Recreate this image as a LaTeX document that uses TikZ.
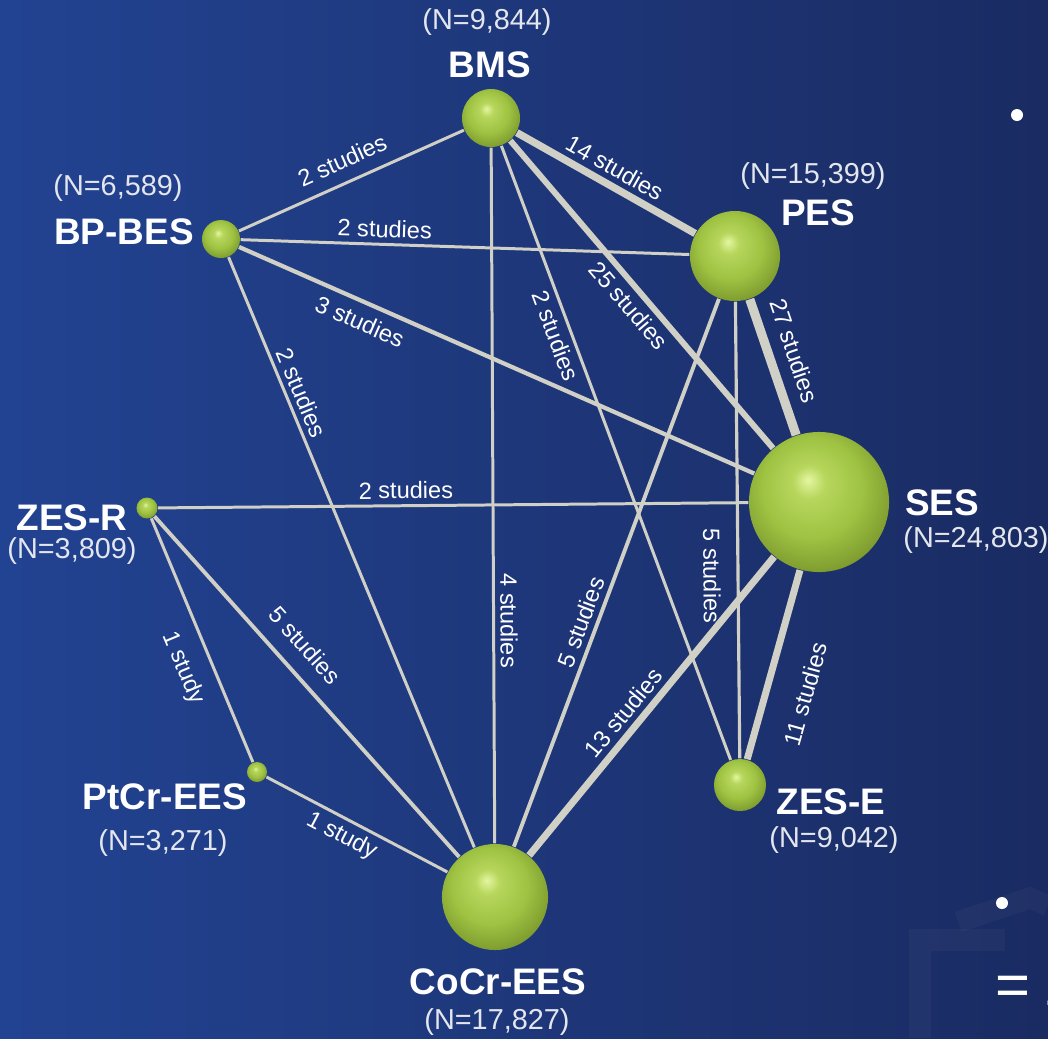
\documentclass[tikz,border=0pt]{standalone}
\usepackage{fontspec}
\setmainfont{Liberation Sans}
\usepackage{xcolor}
\usetikzlibrary{positioning,calc}

\definecolor{bgleft}{RGB}{34,67,146}
\definecolor{bgright}{RGB}{26,43,98}
\definecolor{edgegray}{RGB}{208,208,198}
\definecolor{nlabel}{RGB}{228,230,238}
\definecolor{gbhi}{RGB}{228,246,160}
\definecolor{gbmid}{RGB}{182,214,92}
\definecolor{gbbody}{RGB}{158,194,66}
\definecolor{gbrim}{RGB}{128,158,48}
\definecolor{gbdark}{RGB}{92,114,32}
\pgfdeclareradialshading{greenball}{\pgfpoint{-4bp}{8bp}}{%
  color(0bp)=(gbhi); color(6bp)=(gbmid); color(18bp)=(gbbody);
  color(28bp)=(gbrim); color(34bp)=(gbdark); color(50bp)=(gbdark)}

\begin{document}
\begin{tikzpicture}[x=0.01cm, y=-0.01cm,
  sphere/.style={circle, shading=greenball, minimum size=#1, inner sep=0pt},
  title/.style={text=white, font=\fontsize{10.5}{12}\selectfont\bfseries, inner sep=0pt},
  count/.style={text=nlabel, font=\fontsize{8.2}{10}\selectfont, inner sep=0pt},
  link/.style={draw=edgegray, line width=#1},
  study/.style={text=white, font=\fontsize{6.7}{8}\selectfont, sloped, inner sep=1.5pt}]

  % Background
  \useasboundingbox (0,0) rectangle (1048,1038);
  \clip (0,0) rectangle (1048,1038);
  \shade[left color=bgleft, right color=bgright] (0,0) rectangle (1048,1038);
  \draw[white, opacity=0.03, line width=6pt] (920,1038) -- (920,940) -- (1005,940);
  \draw[white, opacity=0.03, line width=6pt] (958,922) -- (1030,898) -- (1048,906);

  % Treatments
  \node[sphere=0.58cm] (bms) at (491,118) {};
  \node[sphere=0.90cm] (pes) at (735,256) {};
  \node[sphere=0.38cm] (bpbes) at (221,239) {};
  \node[sphere=1.40cm] (ses) at (819,502) {};
  \node[sphere=0.21cm] (zesr) at (147,508) {};
  \node[sphere=0.20cm] (ptcr) at (257,772) {};
  \node[sphere=1.06cm] (cocr) at (495,897) {};
  \node[sphere=0.52cm] (zese) at (740,785) {};

  % Names and sample sizes
  \node[title] (bmsname) at (490,65) {BMS};
  \node[count] (bmsn) at (487,22) {(N=9,844)};
  \node[title] (pesname) at (818,213) {PES};
  \node[count] (pesn) at (813,176) {(N=15,399)};
  \node[title] (bpbesname) at (124,232) {BP-BES};
  \node[count] (bpbesn) at (118,188) {(N=6,589)};
  \node[title] (sesname) at (942,503) {SES};
  \node[count] (sesn) at (976,540) {(N=24,803)};
  \node[title] (zesrname) at (72,518) {ZES-R};
  \node[count] (zesrn) at (72,551) {(N=3,809)};
  \node[title] (ptcrname) at (165,797) {PtCr-EES};
  \node[count] (ptcrn) at (163,843) {(N=3,271)};
  \node[title] (zesename) at (831,802) {ZES-E};
  \node[count] (zesen) at (834,840) {(N=9,042)};
  \node[title] (cocrname) at (498,982) {CoCr-EES};
  \node[count] (cocrn) at (497,1022) {(N=17,827)};

  % Direct comparisons
  \draw[link=0.85pt] (bpbes) -- node[study, pos=.5, above=2pt] {2 studies} (bms);
  \draw[link=2.1pt] (bms) -- node[study, pos=.5, above] {14 studies} (pes);
  \draw[link=0.85pt] (bpbes) -- node[study, pos=.32, above] {2 studies} (pes);
  \draw[link=1.7pt] (bms) -- node[study, pos=.5, below] {25 studies} (ses);
  \draw[link=0.85pt] (bms) -- node[study, pos=.3, below] {2 studies} (zese);
  \draw[link=0.85pt] (bms) -- node[study, pos=.68, above] {4 studies} (cocr);
  \draw[link=1.2pt] (bpbes) -- node[study, pos=.25, below=1pt] {3 studies} (ses);
  \draw[link=0.85pt] (bpbes) -- node[study, pos=.24, above] {2 studies} (cocr);
  \draw[link=2.6pt] (pes) -- node[study, pos=.44, above=2pt] {27 studies} (ses);
  \draw[link=0.9pt] (pes) -- node[study, pos=.6, below=3pt] {5 studies} (zese);
  \draw[link=1.1pt] (cocr) -- node[study, pos=.4, above] {5 studies} (pes);
  \draw[link=2.0pt] (cocr) -- node[study, pos=.44, above] {13 studies} (ses);
  \draw[link=2.0pt] (zese) -- node[study, pos=.4, below=6pt] {11 studies} (ses);
  \draw[link=0.85pt] (zesr) -- node[study, pos=.42, above] {2 studies} (ses);
  \draw[link=0.85pt] (zesr) -- node[study, pos=.57, below=3pt] {1 study} (ptcr);
  \draw[link=1.1pt] (zesr) -- node[study, pos=.43, above=3pt] {5 studies} (cocr);
  \draw[link=0.85pt] (ptcr) -- node[study, pos=.46, below] {1 study} (cocr);

  % Slide margin
  \node[circle, fill=white, minimum size=0.12cm, inner sep=0pt] (dottop) at (1017,115) {};
  \node[circle, fill=white, minimum size=0.12cm, inner sep=0pt] (dotbottom) at (1002,903) {};
  \node[anchor=west, text=white, inner sep=0pt, font=\fontsize{17}{20}\selectfont] (eqsign) at (995,985) {=\hspace{3.6pt}1};
\end{tikzpicture}
\end{document}
